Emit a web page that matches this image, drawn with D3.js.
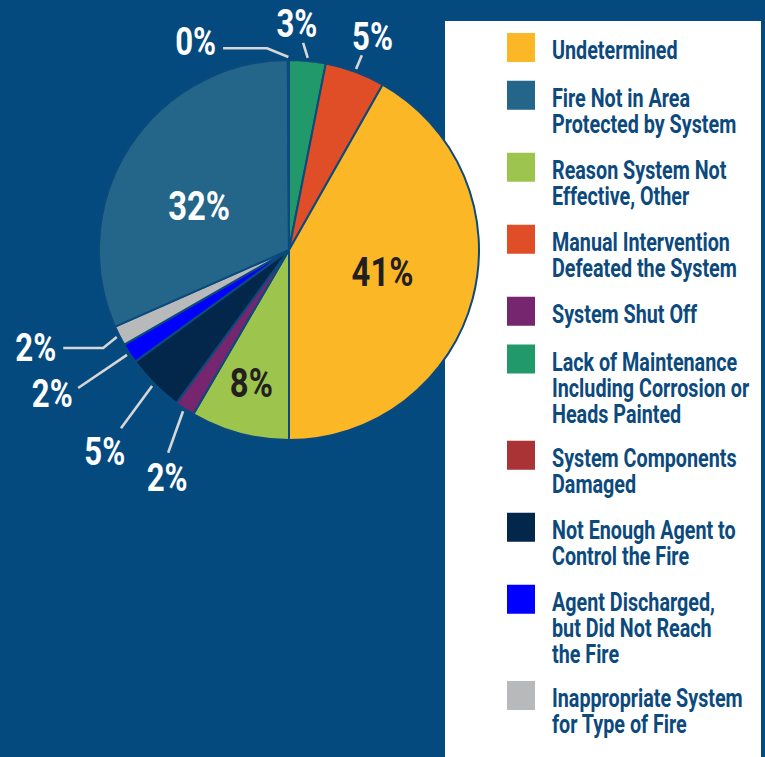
<!DOCTYPE html>
<html><head><meta charset="utf-8">
<script src="https://cdn.jsdelivr.net/npm/d3@7"></script>
<style>html,body{margin:0;padding:0;background:#054A7F;overflow:hidden} svg{display:block}</style>
</head><body><svg id="c" width="765" height="757"></svg>
<script>
// ---- data (pie order, clockwise from 12 o'clock) ----
const sliceNames = ["Lack of Maintenance","Manual Intervention","Undetermined","Reason System Not Effective","System Shut Off","Not Enough Agent","Agent Discharged","Inappropriate System","Fire Not in Area","System Components Damaged"];
const sliceValues = [3.1, 5.1, 41.8, 8.4, 1.7, 4.9, 1.7, 1.7, 31.5, 0.1];
const sliceLabels = ["3%","5%","41%","8%","2%","5%","2%","2%","32%","0%"];
const sliceColors = ["#22996A","#E04E27","#FCB726","#9DC44C","#76266E","#03274B","#0000FF","#B8B9BB","#236689","#AA3335"];
// ---- legend ----
const legendOrder = ["Undetermined","Fire Not in Area","Reason System Not Effective","Manual Intervention","System Shut Off","Lack of Maintenance","System Components Damaged","Not Enough Agent","Agent Discharged","Inappropriate System"];
const legendLines = [
  ["Undetermined"],
  ["Fire Not in Area","Protected by System"],
  ["Reason System Not","Effective, Other"],
  ["Manual Intervention","Defeated the System"],
  ["System Shut Off"],
  ["Lack of Maintenance","Including Corrosion or","Heads Painted"],
  ["System Components","Damaged"],
  ["Not Enough Agent to","Control the Fire"],
  ["Agent Discharged,","but Did Not Reach","the Fire"],
  ["Inappropriate System","for Type of Fire"]
];

// ---- layout (not data) ----
const W = 765, H = 757, cx = 289, cy = 250, R = 190;
const BG = "#054A7F", EDGE = "#0B4A7C", LEG_TXT = "#0C4A7E", LEAD = "#D6D6D6";
const FONT = "Roboto, 'Open Sans', sans-serif";
const labelLayout = {
  "Undetermined": {inside:true, r:96, da:-1.7, fill:"#231F20"},
  "Fire Not in Area": {inside:true, r:100, da:-7, fill:"#FFFFFF"},
  "Reason System Not Effective": {inside:true, r:138, da:0.7, fill:"#231F20"},
  "Lack of Maintenance": {end:[3.9,207.5], text:[2.0,226.6]},
  "Manual Intervention": {end:[20.5,208], text:[21.4,229]},
  "System Shut Off": {end:[210.8,236], text:[208.2,258]},
  "Not Enough Agent": {end:[223.3,245], text:[222.5,272.8]},
  "Agent Discharged": {end:[236.8,252], text:[238.7,277]},
  "Inappropriate System": {elbow:[242.2,210], tail:-40, gap:7, dy:0},
  "System Components Damaged": {elbow:[-6.2,203], tail:-44, gap:7, dy:-6.5}
};

const svg = d3.select("#c");
svg.append("rect").attr("width",W).attr("height",H).attr("fill",BG);

// legend box
svg.append("rect").attr("x",445).attr("y",21).attr("width",316).attr("height",H).attr("fill","#FFFFFF");

const colorOf = d3.scaleOrdinal().domain(sliceNames).range(sliceColors);

function condText(g, x, y, txt, size, sx, anchor, fill){
  return g.append("text")
    .attr("transform",`translate(${x},${y}) scale(${sx},1)`)
    .attr("text-anchor",anchor).attr("font-family",FONT).attr("font-weight",700)
    .attr("font-size",size).attr("fill",fill).text(txt);
}

// legend items
const lg = svg.append("g");
let yTop = 33;
legendOrder.forEach((name,i)=>{
  const lines = legendLines[i];
  lg.append("rect").attr("x",507).attr("y",yTop).attr("width",28).attr("height",29).attr("fill",colorOf(name));
  lines.forEach((ln,k)=>condText(lg,552,yTop+26+k*26.3,ln,25,0.79,"start",LEG_TXT));
  yTop += 24.25*lines.length + 23.5;
});

// pie
const pie = d3.pie().sort(null).value(d=>d.v);
const data = sliceNames.map((n,i)=>({n, v:sliceValues[i], lab:sliceLabels[i]}));
const arcs = pie(data);
const arc = d3.arc().innerRadius(0).outerRadius(R);
const pg = svg.append("g").attr("transform",`translate(${cx},${cy})`);
pg.selectAll("path").data(arcs).join("path")
  .attr("d",arc).attr("fill",d=>colorOf(d.data.n))
  .attr("stroke",EDGE).attr("stroke-width",2).attr("stroke-linejoin","round");

const rad = Math.PI/180;
const polar = (deg, r)=>[cx + r*Math.sin(deg*rad), cy - r*Math.cos(deg*rad)];

const ag = svg.append("g");
arcs.forEach(a=>{
  const L = labelLayout[a.data.n];
  const mid = (a.startAngle + a.endAngle)/2/rad;
  if (L.inside){
    const [x,y] = polar(mid + L.da, L.r);
    condText(ag, x, y + 14, a.data.lab, 40, 0.82, "middle", L.fill);
    return;
  }
  const s = polar(mid, R+3);
  if (L.elbow){
    const e = polar(L.elbow[0], L.elbow[1]);
    const t = [e[0] + L.tail, e[1]];
    ag.append("path").attr("d", d3.line()([s,e,t])).attr("fill","none")
      .attr("stroke",LEAD).attr("stroke-width",2.6);
    condText(ag, t[0]-L.gap, t[1] + L.dy + 13.5, a.data.lab, 38, 0.82, "end", "#FFFFFF");
  } else {
    const e = polar(L.end[0], L.end[1]);
    ag.append("path").attr("d", d3.line()([s,e])).attr("fill","none")
      .attr("stroke",LEAD).attr("stroke-width",2.6);
    const [x,y] = polar(L.text[0], L.text[1]);
    condText(ag, x, y + 13.5, a.data.lab, 38, 0.82, "middle", "#FFFFFF");
  }
});
</script></body></html>
